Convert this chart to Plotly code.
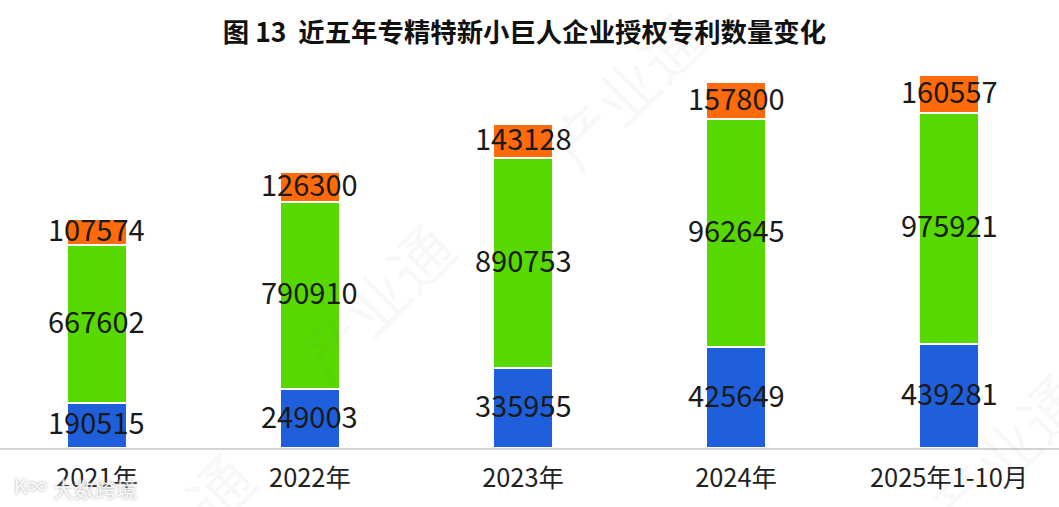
import plotly.graph_objects as go

title = "图 13  近五年专精特新小巨人企业授权专利数量变化"
years = ["2021年", "2022年", "2023年", "2024年", "2025年1-10月"]
blue = [190515, 249003, 335955, 425649, 439281]
green = [667602, 790910, 890753, 962645, 975921]
orange = [107574, 126300, 143128, 157800, 160557]
colors = ["#1f5fdc", "#57d800", "#ff6a0a"]
FONT = "Noto Sans CJK SC"

fig = go.Figure()
annotations = []
base = [0] * len(years)
for vals, c in zip([blue, green, orange], colors):
    fig.add_bar(
        x=years, y=vals, width=0.285, marker=dict(color=c, line=dict(color="white", width=2)),
        showlegend=False,
    )
    for yr, b, v in zip(years, base, vals):
        annotations.append(dict(x=yr, y=b + v / 2, xref="x", yref="y", text=str(v), showarrow=False,
                                xanchor="center", yanchor="middle", yshift=4,
                                font=dict(family=FONT, size=29, color="#1a1a1a")))
    base = [b + v for b, v in zip(base, vals)]

def px(x, y):
    return x / 1059, (448 - y) / 388

wm = [(625, 90, "产业通"), (375, 300, "产业通"), (1005, 450, "产业通"), (218, 487, "通")]
for x, y, t in wm:
    ax, ay = px(x, y)
    annotations.append(dict(x=ax, y=ay, xref="paper", yref="paper", text=t, showarrow=False, textangle=-45,
                            xanchor="center", yanchor="middle",
                            font=dict(family=FONT, size=62, color="rgba(120,120,120,0.05)")))
ax, ay = px(95, 488)
annotations.append(dict(x=ax, y=ay, xref="paper", yref="paper", text="大数跨境", showarrow=False,
                        xanchor="center", yanchor="middle",
                        font=dict(family=FONT, size=21, color="rgba(255,255,255,0.9)", shadow="0 0 3px #999999")))
ax, ay = px(30, 485)
annotations.append(dict(x=ax, y=ay, xref="paper", yref="paper", text="K∞", showarrow=False,
                        xanchor="center", yanchor="middle",
                        font=dict(family=FONT, size=20, color="rgba(255,255,255,0.9)", shadow="0 0 3px #999999")))

fig.update_layout(
    barmode="stack", width=1059, height=507, margin=dict(l=0, r=0, t=60, b=59),
    paper_bgcolor="white", plot_bgcolor="white", autosize=False,
    title=dict(text=title, x=524.5 / 1059, xanchor="center", y=1 - 33 / 507, yanchor="middle",
               font=dict(family=FONT, size=26.4, color="#111111", weight="bold")),
    xaxis=dict(range=[-0.455, 4.516], showline=True, linecolor="#d4d4d4", linewidth=2, ticks="", showgrid=False,
               ticklabelstandoff=7, tickfont=dict(family=FONT, size=25.4, color="#222222")),
    yaxis=dict(range=[0, 1639000], visible=False),
    annotations=annotations,
)
fig.write_html("out.html", config=dict(displayModeBar=False),
               post_script="document.body.style.margin='0';document.documentElement.style.overflow='hidden';")
